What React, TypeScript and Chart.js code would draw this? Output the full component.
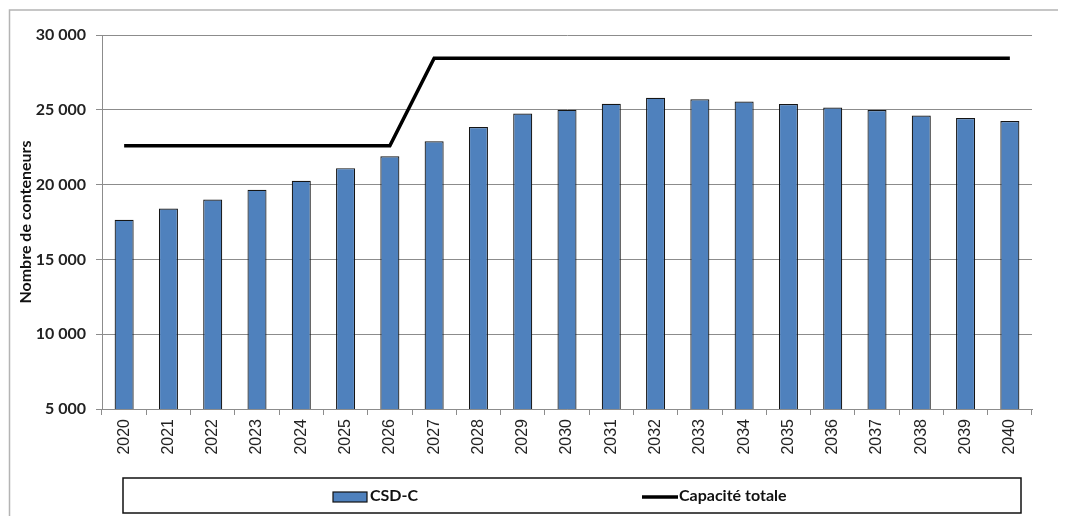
import React, { useEffect, useRef } from "react";
import { Chart, registerables } from "chart.js";

Chart.register(...registerables);

const years = [
  "2020", "2021", "2022", "2023", "2024", "2025", "2026", "2027", "2028", "2029", "2030",
  "2031", "2032", "2033", "2034", "2035", "2036", "2037", "2038", "2039", "2040",
];
const csdC = [
  17650, 18400, 19000, 19650, 20250, 21100, 21900, 22900, 23850, 24750, 25000,
  25400, 25800, 25700, 25550, 25380, 25150, 24980, 24620, 24450, 24250,
];
const capaciteTotale = [
  22600, 22600, 22600, 22600, 22600, 22600, 22600, 28450, 28450, 28450, 28450,
  28450, 28450, 28450, 28450, 28450, 28450, 28450, 28450, 28450, 28450,
];
const yMin = 5000;
const yMax = 30000;
const yStep = 5000;
const yTitle = "Nombre de conteneurs";
const seriesNames = ["CSD-C", "Capacité totale"];

const BAR_COLOR = "#4F81BD";
const fmt = (v: number) => String(v).replace(/\B(?=(\d{3})+(?!\d))/g, " ");

const framePlugin = {
  id: "frame",
  beforeDraw(chart: any) {
    const ctx = chart.ctx;
    ctx.save();
    ctx.fillStyle = "#ffffff";
    ctx.fillRect(0, 0, chart.width, chart.height);
    ctx.strokeStyle = "#b4b4b4";
    ctx.lineWidth = 1.5;
    ctx.beginPath();
    ctx.moveTo(1.5, chart.height);
    ctx.lineTo(1.5, 2);
    ctx.lineTo(chart.width, 2);
    ctx.stroke();
    ctx.restore();
  },
  afterDraw(chart: any) {
    const ctx = chart.ctx;
    const ds = chart.data.datasets;
    const barDs = ds.find((d: any) => d.type === "bar");
    const lineDs = ds.find((d: any) => d.type === "line");
    ctx.save();
    // legend box
    ctx.strokeStyle = "#111";
    ctx.lineWidth = 1.5;
    ctx.strokeRect(115, 470, 898, 35);
    ctx.font = "bold 16px Lato";
    ctx.textBaseline = "middle";
    ctx.textAlign = "left";
    // bar item
    ctx.fillStyle = BAR_COLOR;
    ctx.fillRect(325, 484, 34, 10);
    ctx.strokeStyle = "#111";
    ctx.lineWidth = 1.2;
    ctx.strokeRect(325, 484, 34, 10);
    ctx.fillStyle = "#111";
    ctx.fillText(barDs.label, 362, 488);
    // line item
    ctx.strokeStyle = "#000";
    ctx.lineWidth = 3.5;
    ctx.beginPath();
    ctx.moveTo(634, 489);
    ctx.lineTo(670, 489);
    ctx.stroke();
    ctx.fillText(lineDs.label, 671, 488);
    ctx.restore();
  },
};

export default function App() {
  const ref = useRef<HTMLCanvasElement>(null);

  useEffect(() => {
    if (!ref.current) return;
    const chart = new Chart(ref.current, {
      type: "bar",
      data: {
        labels: years,
        datasets: [
          {
            type: "line",
            label: seriesNames[1],
            data: capaciteTotale,
            borderColor: "#000",
            backgroundColor: "#000",
            borderWidth: 3.5,
            pointRadius: 0,
            tension: 0,
            order: 0,
          } as any,
          {
            type: "bar",
            label: seriesNames[0],
            data: csdC,
            backgroundColor: BAR_COLOR,
            borderColor: "#151515",
            borderWidth: 1.2,
            barPercentage: 0.43,
            categoryPercentage: 1,
            order: 1,
          },
        ],
      },
      options: {
        animation: false,
        responsive: false,
        layout: { padding: { top: 27, right: 34, left: 0, bottom: 0 } },
        plugins: {
          legend: { display: false },
          tooltip: { enabled: false },
        },
        scales: {
          x: {
            offset: true,
            grid: {
              display: true,
              drawOnChartArea: false,
              tickLength: 6,
              color: "#8c8c8c",
              offset: true,
            },
            border: { color: "#8c8c8c", width: 1 },
            ticks: {
              minRotation: 90,
              maxRotation: 90,
              autoSkip: false,
              padding: 4,
              color: "#222",
              font: { family: "Liberation Sans", size: 16 },
            },
            afterFit: (s: any) => {
              s.height = 107;
            },
          },
          y: {
            min: yMin,
            max: yMax,
            ticks: {
              stepSize: yStep,
              callback: (v: any) => fmt(Number(v)),
              color: "#222",
              padding: 10,
              font: { family: "Lato", weight: "bold", size: 16 },
            },
            grid: { color: "#8c8c8c", lineWidth: 1, tickLength: 6 },
            border: { color: "#8c8c8c", width: 1 },
            title: {
              display: true,
              text: yTitle,
              color: "#111",
              padding: { top: 8, bottom: 0 },
              font: { family: "Lato", weight: "bold", size: 16 },
            },
            afterFit: (s: any) => {
              s.width = 94;
            },
          },
        },
      },
      plugins: [framePlugin],
    });
    return () => chart.destroy();
  }, []);

  return (
    <canvas
      ref={ref}
      width={1058}
      height={508}
      style={{ display: "block", width: 1058, height: 508 }}
    />
  );
}
